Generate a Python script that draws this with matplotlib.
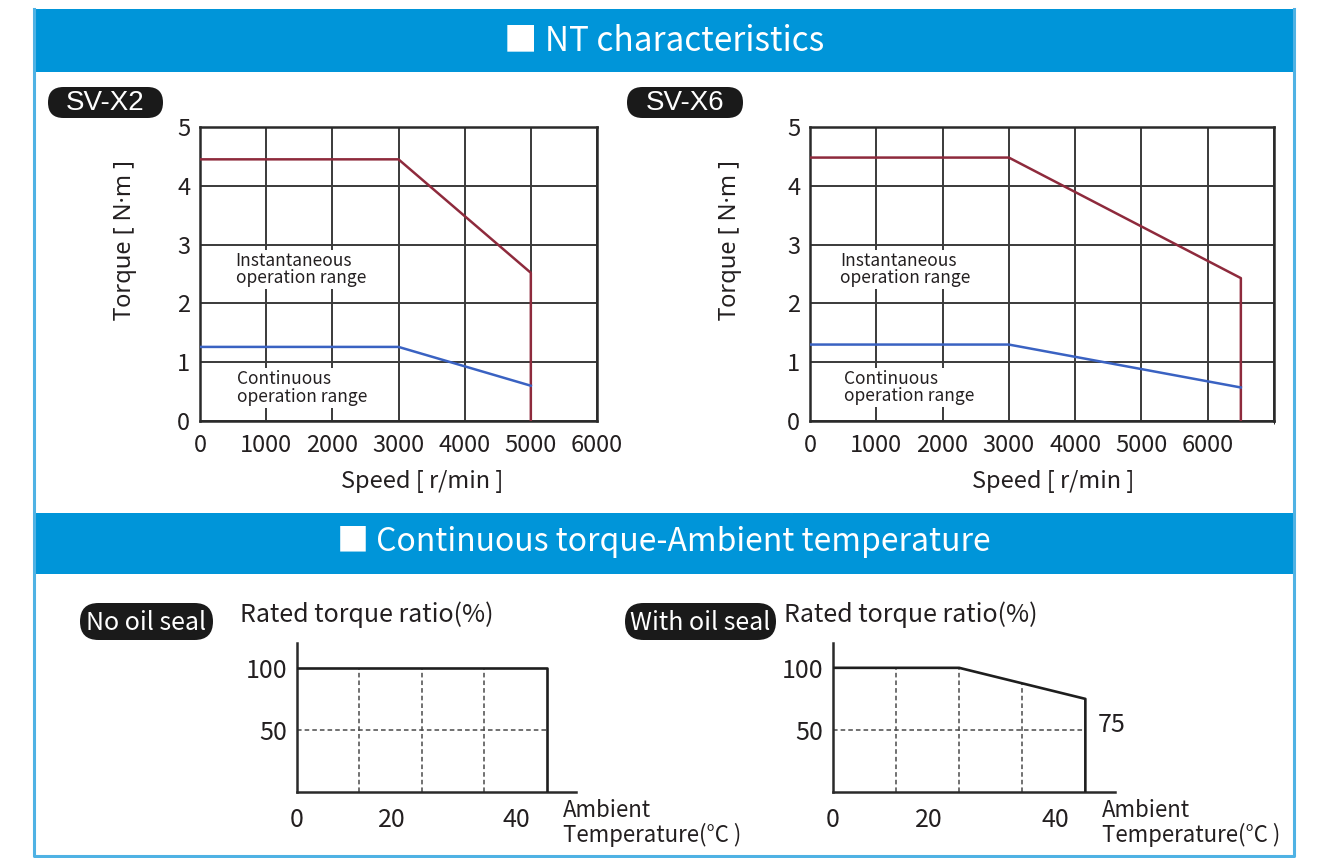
import matplotlib
matplotlib.use("Agg")
import matplotlib.pyplot as plt
from matplotlib.patches import Rectangle, FancyBboxPatch
from matplotlib.transforms import ScaledTranslation
import numpy as np

plt.rcParams["font.family"] = ["Noto Sans CJK SC", "DejaVu Sans"]

# ---------------- data ----------------
speed_ticks = [0, 1000, 2000, 3000, 4000, 5000, 6000]
torque_ticks = [0, 1, 2, 3, 4, 5]

# SV-X2
x2_peak_speed = [0, 3000, 5000, 5000]
x2_peak_torque = [4.45, 4.45, 2.52, 0]
x2_cont_speed = [0, 3000, 5000]
x2_cont_torque = [1.26, 1.26, 0.60]

# SV-X6
x6_peak_speed = [0, 3000, 6500, 6500]
x6_peak_torque = [4.48, 4.48, 2.43, 0]
x6_cont_speed = [0, 3000, 6500]
x6_cont_torque = [1.30, 1.30, 0.57]

# continuous torque vs ambient temperature
temp_ticks = [0, 20, 40]
ratio_ticks = [50, 100]
grid_temps = [10, 20, 30]
no_seal_temp = [0, 40, 40]
no_seal_ratio = [100, 100, 0]
seal_temp = [0, 20, 40, 40]
seal_ratio = [100, 100, 75, 0]

# ---------------- style ----------------
W, H = 1325, 858
BLUE_BAND = "#0095D9"
FRAME = "#4FB2E4"
INK = "#231F20"
GRID = "#3A3A3A"
RED = "#8E2A3C"
LINE_BLUE = "#3A62C2"


def rect(x0, y0, x1, y1):
    """pixel box (top-left origin) -> figure fraction"""
    return [x0 / W, 1 - y1 / H, (x1 - x0) / W, (y1 - y0) / H]


fig = plt.figure(figsize=(W / 100, H / 100), dpi=100, facecolor="white")

# background layer in pixel coordinates
bg = fig.add_axes([0, 0, 1, 1], zorder=-1)
bg.set_xlim(0, W)
bg.set_ylim(H, 0)
bg.axis("off")

bg.add_patch(Rectangle((33, 9), 1262, 63, color=BLUE_BAND, lw=0))
bg.add_patch(Rectangle((33, 513), 1262, 61, color=BLUE_BAND, lw=0))
bg.plot([34, 34, 1294, 1294], [9, 856, 856, 9], color=FRAME, lw=2.2)

bg.text(664, 41, "■ NT characteristics", color="white", fontsize=24,
        ha="center", va="center")
bg.text(664, 542, "■ Continuous torque-Ambient temperature", color="white",
        fontsize=23, ha="center", va="center")


def pill(x0, y0, x1, y1, label, **kw):
    h = y1 - y0
    bg.add_patch(FancyBboxPatch((x0, y0), x1 - x0, h,
                                boxstyle=f"round,pad=0,rounding_size={h / 2}",
                                fc="#1A1A1A", ec="none"))
    bg.text((x0 + x1) / 2, (y0 + y1) / 2 + 1, label, color="white",
            ha="center", va="center", **kw)


pill(48, 87, 163, 118, "SV-X2", fontsize=20, family="Liberation Sans")
pill(627, 87, 743, 118, "SV-X6", fontsize=20, family="Liberation Sans")
pill(80, 603, 213, 640, "No oil seal", fontsize=18)
pill(625, 603, 776, 640, "With oil seal", fontsize=18)

bg.text(240, 615, "Rated torque ratio(%)", fontsize=18, color=INK,
        ha="left", va="center")
bg.text(784, 615, "Rated torque ratio(%)", fontsize=18, color=INK,
        ha="left", va="center")


# ---------------- NT characteristic charts ----------------
def nt_chart(box, xmax, ps, pt, cs, ct, inst_at, cont_at, ylab_x, xlab_x):
    ax = fig.add_axes(rect(*box))
    ax.set_xlim(0, xmax)
    ax.set_ylim(0, 5)
    ax.set_xticks(speed_ticks)
    ax.set_yticks(torque_ticks)
    ax.set_xticks(np.arange(0, xmax + 1, 1000), minor=True)
    ax.tick_params(length=0, labelsize=17, colors=INK)
    ax.tick_params(axis="x", pad=9)
    ax.tick_params(axis="y", pad=7)
    ax.grid(True, which="both", color=GRID, lw=1.4)
    for s in ax.spines.values():
        s.set_linewidth(1.8)
        s.set_color("#2A2A2A")
    ax.plot(ps, pt, color=RED, lw=1.8, zorder=4)
    ax.plot(cs, ct, color=LINE_BLUE, lw=1.8, zorder=4)
    ax.text(*inst_at, "Instantaneous\noperation range", fontsize=12.5,
            color=INK, ha="left", va="center", linespacing=0.95, zorder=3,
            bbox=dict(fc="white", ec="none", pad=1.5))
    ax.text(*cont_at, "Continuous\noperation range", fontsize=12.5,
            color=INK, ha="left", va="center", linespacing=0.95, zorder=3,
            bbox=dict(fc="white", ec="none", pad=1.5))
    ax.set_ylabel("Torque [ N·m ]", fontsize=17, color=INK,
                  family=["Noto Sans", "DejaVu Sans"])
    ax.yaxis.set_label_coords(ylab_x, 0.615)
    ax.set_xlabel("Speed [ r/min ]", fontsize=17, color=INK)
    ax.xaxis.set_label_coords(xlab_x, -0.165)
    return ax


nt_chart((200, 127, 597, 421), 6000, x2_peak_speed, x2_peak_torque,
         x2_cont_speed, x2_cont_torque, (540, 2.58), (560, 0.56), -0.158, 0.56)
nt_chart((810, 127, 1274, 421), 7000, x6_peak_speed, x6_peak_torque,
         x6_cont_speed, x6_cont_torque, (450, 2.58), (510, 0.57), -0.146, 0.524)


# ---------------- temperature derating charts ----------------
def temp_chart(box, temps, ratios, note=None):
    ax = fig.add_axes(rect(*box))
    ax.set_xlim(0, 44.7)
    ax.set_ylim(0, 120)
    for side in ("top", "right"):
        ax.spines[side].set_visible(False)
    for side in ("left", "bottom"):
        ax.spines[side].set_linewidth(1.8)
        ax.spines[side].set_color("#2A2A2A")
    ax.set_xticks(temp_ticks)
    ax.set_yticks(ratio_ticks)
    ax.tick_params(length=0, labelsize=18, colors=INK)
    ax.tick_params(axis="x", pad=11)
    ax.tick_params(axis="y", pad=7)
    shift = ScaledTranslation(-0.30, 0, fig.dpi_scale_trans)
    for t in ax.xaxis.get_major_ticks()[1:]:
        t.label1.set_transform(t.label1.get_transform() + shift)
    # dashed grid kept under the curve
    tops = np.interp(grid_temps, temps[:-1], ratios[:-1])
    for gx, top in zip(grid_temps, tops):
        ax.plot([gx, gx], [0, top], color="#4A4A4A", lw=1.1,
                dashes=(3, 2), zorder=2)
    ax.plot([0, temps[-1]], [50, 50], color="#4A4A4A", lw=1.1,
            dashes=(3, 2), zorder=2)
    ax.plot(temps, ratios, color="#1E1E1E", lw=1.9, zorder=3)
    if note:
        ax.text(42.0, 54, note, fontsize=18, color=INK, ha="left",
                va="center")
    ax.text(0.953, -0.05, "Ambient\nTemperature(°C )", transform=ax.transAxes,
            fontsize=16, color=INK, ha="left", va="top", linespacing=1.0)
    return ax


temp_chart((297, 643, 576, 792), no_seal_temp, no_seal_ratio)
temp_chart((833, 643, 1115, 792), seal_temp, seal_ratio, note="75")

fig.savefig("out.png", dpi=100, facecolor="white")
